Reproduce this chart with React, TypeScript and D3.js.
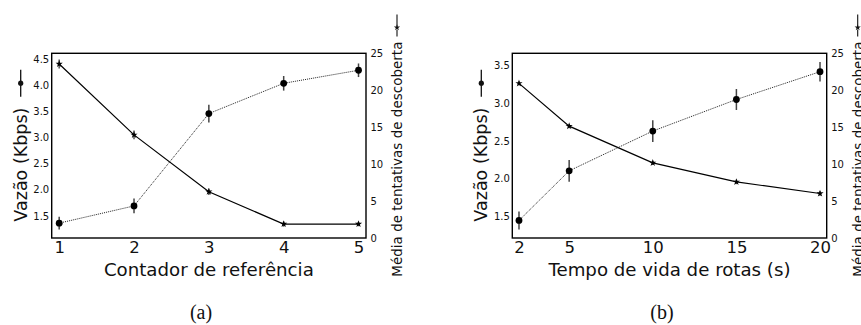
import { useEffect, useRef } from "react";
import * as d3 from "d3";

// panel (a): contador de referência
const xA = [1, 2, 3, 4, 5];
const vazaoA = [1.36, 1.69, 3.46, 4.04, 4.29];
const vazaoErrA = [0.12, 0.14, 0.17, 0.14, 0.13];
const tentA = [23.55, 13.96, 6.26, 1.89, 1.89];
const tentErrA = [0.6, 0.6, 0.45, 0.35, 0.3];

// panel (b): tempo de vida de rotas
const xB = [2, 5, 10, 15, 20];
const vazaoB = [1.44, 2.1, 2.63, 3.05, 3.42];
const vazaoErrB = [0.12, 0.145, 0.145, 0.14, 0.13];
const tentB = [20.93, 15.14, 10.17, 7.59, 6.02];
const tentErrB = [0.3, 0.3, 0.3, 0.3, 0.3];

const leftTicksA = [1.5, 2.0, 2.5, 3.0, 3.5, 4.0, 4.5];
const leftTicksB = [1.5, 2.0, 2.5, 3.0, 3.5];
const rightTicks = [0, 5, 10, 15, 20, 25];

const FONT = "DejaVu Sans, sans-serif";
const W = 861;
const H = 325;

interface PanelCfg {
  x0: number;
  x1: number;
  xs: number[];
  xDomain: [number, number];
  leftDomain: [number, number];
  leftTicks: number[];
  vazao: number[];
  vazaoErr: number[];
  tent: number[];
  tentErr: number[];
  xLabel: string;
  caption: string;
  captionX: number;
}

const TOP = 53.3;
const BOTTOM = 238;

function drawPanel(svg: d3.Selection<SVGSVGElement, unknown, null, undefined>, cfg: PanelCfg) {
  const g = svg.append("g");
  const x = d3.scaleLinear().domain(cfg.xDomain).range([cfg.x0, cfg.x1]);
  const yL = d3.scaleLinear().domain(cfg.leftDomain).range([BOTTOM, TOP]);
  const yR = d3.scaleLinear().domain([0, 25]).range([BOTTOM, TOP]);

  // solid line, star markers (right axis)
  const lineR = d3.line<number>().x((_, i) => x(cfg.xs[i])).y((d) => yR(d));
  g.append("path")
    .attr("d", lineR(cfg.tent))
    .attr("fill", "none")
    .attr("stroke", "#000")
    .attr("stroke-width", 1.2);

  // dotted line, circle markers (left axis)
  const lineL = d3.line<number>().x((_, i) => x(cfg.xs[i])).y((d) => yL(d));
  g.append("path")
    .attr("d", lineL(cfg.vazao))
    .attr("fill", "none")
    .attr("stroke", "#222")
    .attr("stroke-width", 1)
    .attr("stroke-dasharray", "1,1");

  // error bars
  cfg.tent.forEach((v, i) => {
    g.append("line")
      .attr("x1", x(cfg.xs[i])).attr("x2", x(cfg.xs[i]))
      .attr("y1", yR(v - cfg.tentErr[i])).attr("y2", yR(v + cfg.tentErr[i]))
      .attr("stroke", "#555").attr("stroke-width", 1.5);
  });
  cfg.vazao.forEach((v, i) => {
    g.append("line")
      .attr("x1", x(cfg.xs[i])).attr("x2", x(cfg.xs[i]))
      .attr("y1", yL(v - cfg.vazaoErr[i])).attr("y2", yL(v + cfg.vazaoErr[i]))
      .attr("stroke", "#444").attr("stroke-width", 1.5);
  });

  const star = d3.symbol().type(d3.symbolStar).size(16);
  cfg.tent.forEach((v, i) => {
    g.append("path")
      .attr("d", star())
      .attr("transform", `translate(${x(cfg.xs[i])},${yR(v)})`)
      .attr("fill", "#000");
  });
  cfg.vazao.forEach((v, i) => {
    g.append("circle")
      .attr("cx", x(cfg.xs[i])).attr("cy", yL(v)).attr("r", 3.4)
      .attr("fill", "#000");
  });

  // frame
  g.append("rect")
    .attr("x", cfg.x0).attr("y", TOP)
    .attr("width", cfg.x1 - cfg.x0).attr("height", BOTTOM - TOP)
    .attr("fill", "none").attr("stroke", "#000").attr("stroke-width", 1.4);

  // axes
  g.append("g")
    .attr("transform", `translate(0,${BOTTOM})`)
    .call(d3.axisBottom(x).tickValues(cfg.xs).tickSize(0).tickPadding(3).tickFormat(d3.format("d")))
    .call((a) => a.select(".domain").remove())
    .call((a) => a.selectAll("text").attr("font-size", 16.5).attr("font-family", FONT).attr("fill", "#111"));

  g.append("g")
    .attr("transform", `translate(${cfg.x0},0)`)
    .call(d3.axisLeft(yL).tickValues(cfg.leftTicks).tickSize(0).tickPadding(2.5).tickFormat(d3.format(".1f")))
    .call((a) => a.select(".domain").remove())
    .call((a) => a.selectAll("text").attr("font-size", 10).attr("font-family", FONT).attr("fill", "#111"));

  g.append("g")
    .attr("transform", `translate(${cfg.x1},0)`)
    .call(d3.axisRight(yR).tickValues(rightTicks).tickSize(0).tickPadding(4.5).tickFormat(d3.format("d")))
    .call((a) => a.select(".domain").remove())
    .call((a) => a.selectAll("text").attr("font-size", 10).attr("font-family", FONT).attr("fill", "#111"));

  const midX = (cfg.x0 + cfg.x1) / 2;
  const midY = (TOP + BOTTOM) / 2;

  // x label
  g.append("text")
    .attr("x", midX).attr("y", 276)
    .attr("text-anchor", "middle")
    .attr("font-family", FONT).attr("font-size", 18.2).attr("fill", "#111")
    .text(cfg.xLabel);

  // left y label with legend symbol
  const leftBase = cfg.x0 - 25;
  const lg = g.append("g").attr("transform", `translate(${leftBase},${midY}) rotate(-90)`);
  const lt = lg.append("text")
    .attr("font-family", FONT).attr("font-size", 17.5).attr("fill", "#111")
    .text("Vazão (Kbps)");
  const ltLen = (lt.node() as SVGTextElement).getComputedTextLength();
  const lGap = 11, lSym = 27;
  const lTotal = ltLen + lGap + lSym;
  lt.attr("x", -lTotal / 2);
  const lsx = -lTotal / 2 + ltLen + lGap;
  lg.append("line")
    .attr("x1", lsx).attr("x2", lsx + lSym).attr("y1", -6).attr("y2", -6)
    .attr("stroke", "#111").attr("stroke-width", 1.3);
  lg.append("circle").attr("cx", lsx + lSym / 2).attr("cy", -6).attr("r", 2.6).attr("fill", "#111");

  // right y label with legend symbol
  const rightBase = cfg.x1 + 36;
  const rg = g.append("g").attr("transform", `translate(${rightBase},${midY}) rotate(-90)`);
  const rt = rg.append("text")
    .attr("font-family", FONT).attr("font-size", 13.5).attr("fill", "#111")
    .text("Média de tentativas de descoberta");
  const rtLen = (rt.node() as SVGTextElement).getComputedTextLength();
  const rGap = 5, rSym = 22;
  const rTotal = rtLen + rGap + rSym;
  rt.attr("x", -rTotal / 2);
  const rsx = -rTotal / 2 + rtLen + rGap;
  rg.append("line")
    .attr("x1", rsx).attr("x2", rsx + rSym).attr("y1", -5).attr("y2", -5)
    .attr("stroke", "#111").attr("stroke-width", 1.1)
    .attr("stroke-dasharray", "7,3,12");
  rg.append("path")
    .attr("d", d3.symbol().type(d3.symbolStar).size(12)())
    .attr("transform", `translate(${rsx + 9},-5) rotate(90)`)
    .attr("fill", "#111");

  // caption
  g.append("text")
    .attr("x", cfg.captionX).attr("y", 319)
    .attr("text-anchor", "middle")
    .attr("font-family", "Liberation Serif, Times New Roman, serif")
    .attr("font-size", 20).attr("fill", "#111")
    .text(cfg.caption);
}

export default function App() {
  const svgRef = useRef<SVGSVGElement>(null);

  useEffect(() => {
    if (!svgRef.current) return;
    const svg = d3.select(svgRef.current);
    svg.selectAll("*").remove();

    drawPanel(svg, {
      x0: 51.7, x1: 366,
      xs: xA, xDomain: [0.9, 5.1],
      leftDomain: [1.075, 4.615], leftTicks: leftTicksA,
      vazao: vazaoA, vazaoErr: vazaoErrA, tent: tentA, tentErr: tentErrA,
      xLabel: "Contador de referência", caption: "(a)", captionX: 201,
    });
    drawPanel(svg, {
      x0: 512.3, x1: 826.7,
      xs: xB, xDomain: [1.6, 20.4],
      leftDomain: [1.206, 3.665], leftTicks: leftTicksB,
      vazao: vazaoB, vazaoErr: vazaoErrB, tent: tentB, tentErr: tentErrB,
      xLabel: "Tempo de vida de rotas (s)", caption: "(b)", captionX: 662,
    });
  }, []);

  return (
    <div style={{ position: "absolute", left: 0, top: 0, width: W, height: H, background: "#fff" }}>
      <svg ref={svgRef} width={W} height={H} />
    </div>
  );
}
